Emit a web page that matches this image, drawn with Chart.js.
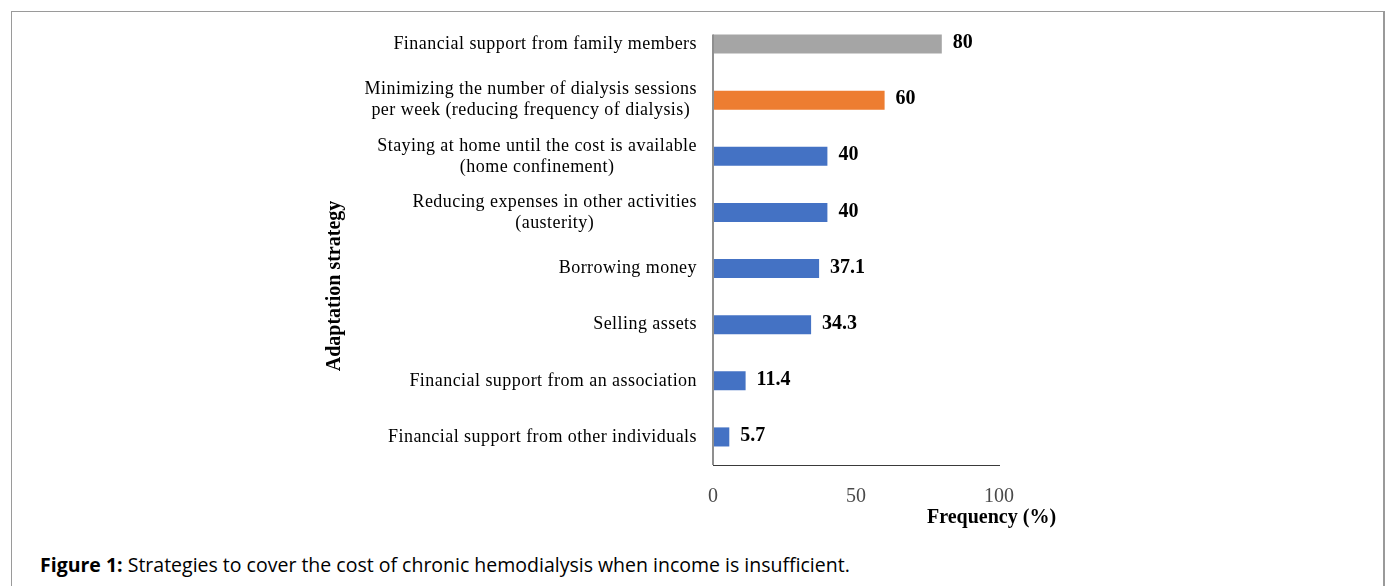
<!DOCTYPE html>
<html>
<head>
<meta charset="utf-8">
<script src="https://cdn.jsdelivr.net/npm/chart.js@4/dist/chart.umd.min.js"></script>
<style>
  body { margin: 0; background: #fff; }
  #frame {
    position: absolute; left: 11px; top: 11px; width: 1371px; height: 590px;
    border-left: 1px solid #9a9a9a; border-top: 1px solid #9a9a9a; border-right: 2px solid #9a9a9a;
  }
  #myChart { position: absolute; left: 0; top: 0; }
  #caption {
    position: absolute; left: 40px; top: 551px;
    font-family: "Open Sans", sans-serif; font-size: 19.5px; color: #000;
  }
</style>
</head>
<body>
<div id="frame"></div>
<canvas id="myChart" width="1389" height="540"></canvas>
<div id="caption"><b>Figure 1:</b> Strategies to cover the cost of chronic hemodialysis when income is insufficient.</div>
<script>
// categories, top to bottom
const strategies = [
  ["Financial support from family members"],
  ["Minimizing the number of dialysis sessions", "per week (reducing frequency of dialysis)"],
  ["Staying at home until the cost is available", "(home confinement)"],
  ["Reducing expenses in other activities", "(austerity)"],
  ["Borrowing money"],
  ["Selling assets"],
  ["Financial support from an association"],
  ["Financial support from other individuals"]
];
const frequency = [80, 60, 40, 40, 37.1, 34.3, 11.4, 5.7];
const valueLabels = ["80", "60", "40", "40", "37.1", "34.3", "11.4", "5.7"];
const xTicks = [0, 50, 100];
const barColors = ["#A5A5A5", "#ED7D31", "#4472C4", "#4472C4", "#4472C4", "#4472C4", "#4472C4", "#4472C4"];

const serif = "'Liberation Serif', 'Times New Roman', serif";

// draws category labels (right aligned block, centred lines), values and axis titles
const extras = {
  id: "extras",
  afterDatasetsDraw(chart) {
    const ctx = chart.ctx;
    const yScale = chart.scales.y;
    const area = chart.chartArea;
    ctx.save();

    // value axis line starts at the top bar, like the original
    const firstBar = chart.getDatasetMeta(0).data[0];
    ctx.strokeStyle = "#8f8f8f";
    ctx.lineWidth = 2;
    ctx.beginPath();
    ctx.moveTo(area.left, firstBar.y - firstBar.height / 2);
    ctx.lineTo(area.left, area.bottom);
    ctx.stroke();

    ctx.fillStyle = "#000";
    ctx.textBaseline = "middle";

    // category labels
    ctx.font = "18px " + serif;
    ctx.letterSpacing = "0.45px";
    ctx.textAlign = "center";
    const right = area.left - 16;
    const lineH = 21;
    strategies.forEach(function (lines, i) {
      const yc = yScale.getPixelForTick(i);
      const blockW = Math.max.apply(null, lines.map((l) => ctx.measureText(l).width));
      const xc = right - blockW / 2;
      lines.forEach(function (l, j) {
        ctx.fillText(l, xc, yc - ((lines.length - 1) * lineH) / 2 + j * lineH);
      });
    });
    ctx.letterSpacing = "0px";

    // value labels
    ctx.font = "bold 20px " + serif;
    ctx.textAlign = "left";
    chart.getDatasetMeta(0).data.forEach(function (bar, i) {
      ctx.fillText(valueLabels[i], bar.x + 11, bar.y - 1);
    });

    // axis titles
    ctx.fillText("Frequency (%)", 927, 518);
    ctx.translate(335, 286);
    ctx.rotate(-Math.PI / 2);
    ctx.textAlign = "center";
    ctx.fillText("Adaptation strategy", 0, 0);
    ctx.restore();
  }
};

function createTheChart() {
  const ctx = document.getElementById("myChart").getContext("2d");
  new Chart(ctx, {
    type: "bar",
    data: {
      labels: strategies,
      datasets: [
        {
          data: frequency,
          backgroundColor: barColors,
          categoryPercentage: 1,
          barPercentage: 0.34
        }
      ]
    },
    options: {
      indexAxis: "y",
      responsive: false,
      animation: false,
      layout: { padding: { top: 16, right: 390, left: 0, bottom: 0 } },
      plugins: { legend: { display: false }, tooltip: { enabled: false } },
      scales: {
        x: {
          min: 0,
          max: 100,
          afterBuildTicks: (scale) => { scale.ticks = xTicks.map((v) => ({ value: v })); },
          afterFit: (scale) => { scale.height = 75; },
          grid: { display: false, drawTicks: false },
          border: { display: true, color: "#3a3a3a", width: 1 },
          ticks: { color: "#4a4a4a", font: { family: serif, size: 20 }, padding: 20 }
        },
        y: {
          afterFit: (scale) => { scale.width = 713; },
          grid: { display: false, drawTicks: false },
          border: { display: false },
          ticks: { display: false }
        }
      }
    },
    plugins: [extras]
  });
}

createTheChart();
</script>
</body>
</html>
